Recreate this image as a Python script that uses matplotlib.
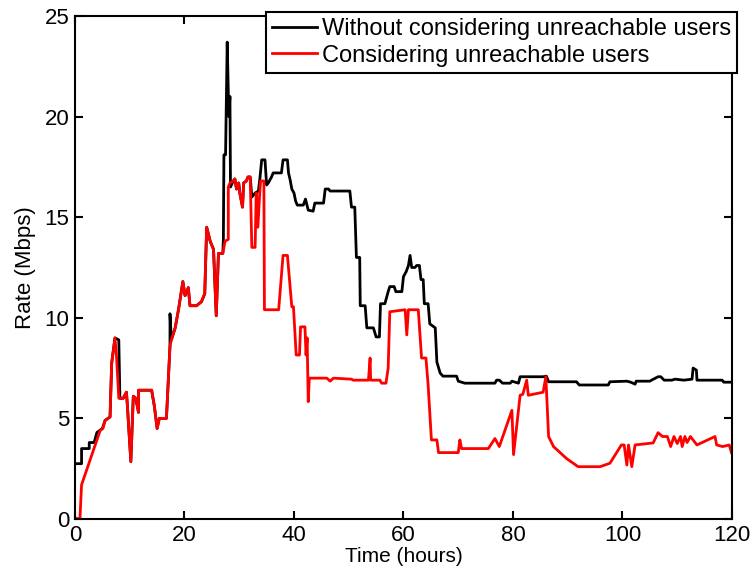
import numpy as np
import matplotlib
matplotlib.use("Agg")
import matplotlib.pyplot as plt

# Rate without considering unreachable users (time in hours, rate in Mbps)
t_without = [0, 1.2, 1.2, 2.6, 2.6, 3.5, 4.0, 5.0, 5.5, 6.4, 6.7, 7.3, 8.0, 8.2, 8.8, 9.4, 9.6, 10.2,
             10.65, 11.1, 11.6, 11.6, 14.0, 14.5, 15.0, 15.4, 16.7, 17.35, 17.35, 17.6, 18.3, 18.9, 19.7,
             20.1, 20.7, 21.0, 22.2, 23.1, 23.7, 24.05, 24.7, 25.3, 25.8, 26.2, 27.0, 27.1, 27.2, 27.5,
             27.8, 28.1, 28.3, 28.4, 28.9, 29.2, 29.5, 29.9, 30.1, 30.6, 30.8, 31.3, 31.6, 32.0, 32.3,
             32.9, 33.5, 33.8, 34.1, 34.7, 35.0, 35.3, 35.9, 36.2, 37.7, 38.0, 38.8, 39.0, 39.3, 39.6,
             40.0, 40.3, 40.6, 41.7, 42.1, 42.6, 43.5, 43.8, 45.4, 45.7, 46.3, 46.6, 50.2, 50.5, 51.1,
             51.4, 52.0, 52.1, 53.0, 53.3, 54.5, 55.0, 55.6, 55.8, 56.6, 57.2, 57.5, 58.3, 58.6, 59.7,
             60.0, 60.5, 60.9, 61.2, 61.5, 62.1, 62.4, 62.9, 63.2, 63.6, 63.8, 64.5, 64.8, 65.8, 66.1,
             66.7, 67.2, 69.7, 70.0, 71.2, 76.7, 77.0, 77.5, 78.1, 79.5, 79.8, 81.0, 81.3, 85.5, 86.1,
             86.5, 91.6, 92.1, 97.4, 97.7, 100.8, 101.5, 102.3, 102.5, 105.0, 105.3, 106.5, 107.0,
             107.6, 109.0, 109.6, 111.2, 112.7, 112.9, 113.5, 113.6, 118.2, 118.5, 120]
r_without = [2.75, 2.75, 3.5, 3.5, 3.8, 3.8, 4.3, 4.5, 4.9, 5.07, 7.75, 9.0, 8.9, 6.0, 6.0, 6.3, 5.5, 2.85,
             6.1, 6.0, 5.3, 6.4, 6.4, 5.6, 4.5, 5.0, 5.0, 8.6, 10.2, 8.9, 9.5, 10.4, 11.8,
             11.1, 11.5, 10.6, 10.6, 10.8, 11.2, 14.5, 13.8, 13.4, 10.1, 13.2, 13.2, 13.9, 18.1, 18.1,
             23.7, 20.0, 21.0, 16.5, 16.8, 16.9, 16.4, 16.7, 16.2, 15.5, 16.7, 16.8, 17.0, 17.0, 16.0,
             16.2, 16.3, 17.0, 17.85, 17.85, 16.6, 16.7, 17.0, 17.2, 17.2, 17.85, 17.85, 17.2, 16.85, 16.4,
             16.2, 15.8, 15.6, 15.6, 15.9, 15.35, 15.3, 15.7, 15.7, 16.4, 16.4, 16.3, 16.3, 15.5, 15.5,
             13.0, 13.0, 10.6, 10.6, 9.5, 9.5, 9.05, 9.05, 10.7, 10.7, 11.3, 11.55, 11.55, 11.3, 11.3,
             12.05, 12.3, 12.6, 13.1, 12.5, 12.5, 12.6, 12.6, 11.9, 11.9, 10.7, 10.7, 9.7, 9.5, 7.8,
             7.25, 7.1, 7.1, 6.85, 6.75, 6.75, 6.9, 6.9, 6.75, 6.75, 6.85, 6.75, 7.07, 7.07, 7.1,
             6.82, 6.82, 6.66, 6.66, 6.82, 6.85, 6.8, 6.7, 6.85, 6.85, 6.9, 7.07, 7.07,
             6.9, 6.9, 6.95, 6.9, 6.95, 7.5, 7.4, 6.9, 6.9, 6.8, 6.8]

# Rate considering unreachable users
t_with = [0, 0.9, 1.2, 4.6, 5.1, 5.5, 6.4, 6.7, 7.3, 7.6, 8.0, 8.8, 9.4, 9.6, 10.2, 10.65, 11.1, 11.6,
          11.6, 14.0, 14.5, 15.0, 15.4, 16.7, 17.35, 17.6, 18.3, 18.9, 19.7, 20.1, 20.7, 21.0, 22.2,
          23.1, 23.7, 24.05, 24.7, 25.3, 25.8, 26.2, 27.0, 27.4, 28.0, 28.0, 28.3, 28.9, 29.2, 29.5,
          29.9, 30.1, 30.6, 30.8, 31.3, 31.6, 32.0, 32.3, 32.9, 33.1, 33.4, 33.7, 33.9, 34.5, 34.6,
          37.2, 38.0, 38.8, 39.6, 39.9, 40.4, 41.0, 41.2, 42.0, 42.2, 42.4, 42.6, 42.8, 46.0, 46.6,
          47.2, 50.5, 50.8, 53.6, 53.9, 54.0, 55.7, 56.0, 56.8, 57.2, 57.5, 60.3, 60.6, 60.9, 62.7,
          63.3, 64.1, 64.5, 65.1, 66.1, 66.4, 70.0, 70.3, 70.6, 75.5, 76.7, 77.5, 79.8, 80.1, 81.3,
          81.8, 82.5, 82.8, 85.5, 86.0, 86.5, 87.4, 89.8, 91.9, 95.9, 97.7, 99.8, 100.3, 100.8, 101.1,
          101.7, 102.3, 105.6, 106.5, 107.3, 108.2, 108.8, 109.4, 110.0, 110.6, 110.9, 111.4, 111.8,
          112.4, 113.6, 116.9, 117.2, 118.3, 119.5, 119.9]
r_with = [0.05, 0, 1.7, 4.4, 4.5, 4.9, 5.07, 7.75, 9.0, 8.0, 6.0, 6.0, 6.3, 5.5, 2.85, 6.1, 6.0, 5.3,
          6.4, 6.4, 5.6, 4.5, 5.0, 5.0, 8.6, 8.9, 9.5, 10.4, 11.8, 11.1, 11.5, 10.6, 10.6,
          10.8, 11.2, 14.5, 13.8, 13.4, 10.1, 13.2, 13.2, 13.8, 13.9, 16.5, 16.7, 16.8, 16.9, 16.4,
          16.7, 16.2, 15.5, 16.7, 16.8, 17.0, 17.0, 13.5, 13.5, 16.2, 14.5, 16.0, 16.8, 16.8, 10.4,
          10.4, 13.1, 13.1, 10.55, 10.55, 8.15, 8.15, 9.55, 9.55, 8.15, 9.0, 5.83, 7.0, 7.0, 6.85,
          7.0, 6.95, 6.9, 6.9, 8.0, 6.9, 6.9, 6.75, 6.75, 7.5, 10.3, 10.4, 9.15, 10.4, 10.4,
          8.0, 8.0, 6.66, 3.93, 3.93, 3.3, 3.3, 3.93, 3.5, 3.5, 4.0, 3.6, 5.4, 3.2, 6.15,
          6.2, 6.9, 6.15, 6.3, 7.07, 4.1, 3.6, 3.0, 2.6, 2.6, 2.77, 3.68, 3.68, 2.68, 3.68,
          2.6, 3.68, 3.78, 4.29, 4.1, 4.1, 3.6, 4.1, 3.75, 4.1, 3.6, 4.1, 3.8,
          4.1, 3.68, 4.1, 3.68, 3.6, 3.68, 3.3]

plt.rcParams['font.family'] = ['Liberation Sans', 'DejaVu Sans']

fig = plt.figure(figsize=(7.53, 5.75), dpi=100)
ax = fig.add_axes([0.0996, 0.0974, 0.8725, 0.8748])

ax.plot(t_without, r_without, color='black', linewidth=2.0, label='Without considering unreachable users')
ax.plot(t_with, r_with, color='red', linewidth=2.0, label='Considering unreachable users')

ax.set_xlim(0, 120)
ax.set_ylim(0, 25)
ax.set_xticks(np.arange(0, 121, 20))
ax.set_yticks(np.arange(0, 26, 5))
ax.tick_params(direction='in', top=True, right=True, width=1.5, length=6)
ax.tick_params(axis='y', labelsize=16, pad=4)
ax.tick_params(axis='x', labelsize=16, pad=4)
for s in ax.spines.values():
    s.set_linewidth(1.5)

ax.set_xlabel('Time (hours)', fontsize=15, labelpad=1)
ax.set_ylabel('Rate (Mbps)', fontsize=16, labelpad=6)

leg = ax.legend(loc='upper right', bbox_to_anchor=(737 / 753, 1 - 12 / 575),
                bbox_transform=fig.transFigure, fontsize=17, fancybox=False, framealpha=1,
                edgecolor='black', handlelength=1.9, handletextpad=0.2, borderpad=0.25,
                labelspacing=0.2, borderaxespad=0)
leg.get_frame().set_linewidth(1.5)

fig.savefig('out.png', dpi=100)
